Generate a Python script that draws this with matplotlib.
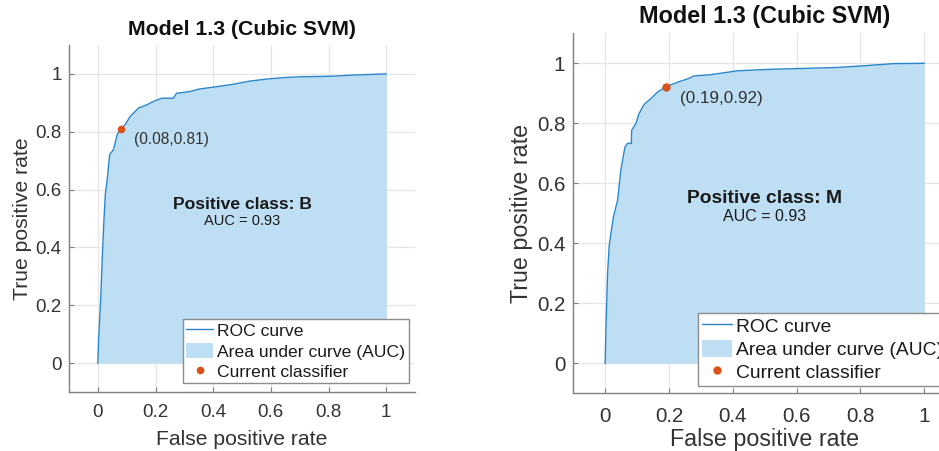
import matplotlib
matplotlib.use("Agg")
import matplotlib.pyplot as plt

plt.rcParams['font.family'] = ['Liberation Sans', 'DejaVu Sans']

# ---- data ----
title_text = "Model 1.3 (Cubic SVM)"
xlabel_text = "False positive rate"
ylabel_text = "True positive rate"
ticks = [0, 0.2, 0.4, 0.6, 0.8, 1]
tick_labels = ["0", "0.2", "0.4", "0.6", "0.8", "1"]

fpr_B = [0, 0.003, 0.01, 0.015, 0.021, 0.026, 0.032, 0.041, 0.055, 0.067, 0.078,
         0.095, 0.112, 0.141, 0.17, 0.193, 0.222, 0.262, 0.273, 0.319, 0.353,
         0.399, 0.468, 0.526, 0.584, 0.641, 0.699, 0.814, 0.883, 1.0]
tpr_B = [0, 0.09, 0.22, 0.355, 0.49, 0.584, 0.63, 0.72, 0.74, 0.79, 0.807,
         0.825, 0.853, 0.882, 0.893, 0.905, 0.916, 0.916, 0.933, 0.939, 0.948,
         0.954, 0.964, 0.975, 0.982, 0.987, 0.99, 0.992, 0.996, 1.0]
op_B = (0.08, 0.81)
auc_B = 0.93

fpr_M = [0, 0.002, 0.0075, 0.0125, 0.018, 0.026, 0.039, 0.049, 0.062, 0.07,
         0.082, 0.083, 0.096, 0.106, 0.122, 0.143, 0.164, 0.191, 0.227, 0.258,
         0.279, 0.331, 0.414, 0.519, 0.623, 0.727, 0.8, 0.905, 1.0]
tpr_M = [0, 0.103, 0.30, 0.39, 0.433, 0.489, 0.544, 0.644, 0.721, 0.733,
         0.733, 0.777, 0.799, 0.832, 0.863, 0.882, 0.904, 0.922, 0.937, 0.948,
         0.958, 0.962, 0.975, 0.98, 0.983, 0.986, 0.991, 0.999, 1.0]
op_M = (0.19, 0.92)
auc_M = 0.93

LINE = '#2a86cc'
FILL = '#bedef3'
DOT = '#d95319'
AX = '#7f7f7f'
TXT = '#333333'

fig = plt.figure(figsize=(9.39, 4.51), dpi=100)

def draw(rect, fpr, tpr, op, cls, auc, s, leg_anchor, xpad, xlabpad):
    ax = fig.add_axes(rect)
    ax.set_xlim(-0.1, 1.1)
    ax.set_ylim(-0.1, 1.1)
    ax.set_xticks(ticks)
    ax.set_yticks(ticks)
    ax.set_xticklabels(tick_labels)
    ax.set_yticklabels(tick_labels)
    ax.grid(True, color='#e6e6e6', lw=0.9)
    ax.set_axisbelow(True)
    for sp in ['top', 'right']:
        ax.spines[sp].set_visible(False)
    for sp in ['left', 'bottom']:
        ax.spines[sp].set_color(AX)
        ax.spines[sp].set_linewidth(1.0)
    ax.tick_params(direction='in', length=3.5, width=0.8, color=AX,
                   labelcolor=TXT, labelsize=13.5 * s)
    ax.tick_params(axis='x', pad=xpad)
    ax.tick_params(axis='y', pad=5.2 * s)
    fill = ax.fill_between(fpr, tpr, 0, color=FILL, lw=0,
                           label='Area under curve (AUC)')
    line, = ax.plot(fpr, tpr, color=LINE, lw=1.0, label='ROC curve')
    dot, = ax.plot([op[0]], [op[1]], 'o', color=DOT, ms=5.5 * s,
                   mec='none', ls='none', label='Current classifier')
    ax.annotate('(%.2f,%.2f)' % op, xy=op, xytext=(9.5 * s, -7.5 * s),
                textcoords='offset points', ha='left', va='center',
                fontsize=11.2 * s, color=TXT)
    ax.text(0.5, 0.55, 'Positive class: ' + cls, ha='center', va='center',
            fontsize=12.6 * s, fontweight='bold', color='#1a1a1a')
    ax.text(0.5, 0.49, 'AUC = %.2f' % auc, ha='center', va='center',
            fontsize=10.5 * s, color='#1a1a1a')
    ax.set_title(title_text, fontsize=15.3 * s, fontweight='bold',
                 color='#111111', pad=7 * s)
    ax.set_xlabel(xlabel_text, fontsize=15.2 * s, color=TXT, labelpad=xlabpad)
    ax.set_ylabel(ylabel_text, fontsize=15.2 * s, color=TXT, labelpad=2.5 * s)
    leg = ax.legend(handles=[line, fill, dot], loc='lower left',
                    bbox_to_anchor=leg_anchor, fontsize=12.6 * s,
                    frameon=True, fancybox=False, framealpha=1,
                    edgecolor='#8c8c8c', borderpad=0.2, labelspacing=0.2,
                    handlelength=1.55, handleheight=1.0, handletextpad=0.2,
                    borderaxespad=0, labelcolor='#1a1a1a')
    leg.get_frame().set_linewidth(1.0)
    return ax

draw([69 / 939, 1 - 392 / 451, 346 / 939, 347 / 451],
     fpr_B, tpr_B, op_B, 'B', auc_B, 1.0, (0.329, 0.025), 8.5, 6.3)
draw([573.3 / 939, 1 - 393.3 / 451, 382.7 / 939, 360 / 451],
     fpr_M, tpr_M, op_M, 'M', auc_M, 1.1, (0.327, 0.021), 9.9, 1.2)

fig.savefig('out.png', dpi=100)
